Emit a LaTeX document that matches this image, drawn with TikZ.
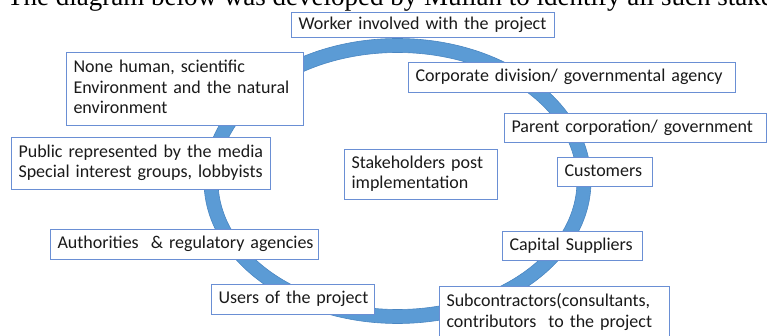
\documentclass[tikz,border=0pt]{standalone}
\usepackage{fontspec}
\setmainfont{Carlito}
\newfontfamily\leadserif{Liberation Serif}
\usepackage{tikz}
\usepackage{xcolor}
\definecolor{ringblue}{HTML}{5B9BD5}
\definecolor{ringedge}{HTML}{4A86C2}
\definecolor{boxline}{HTML}{6A8FD4}
\definecolor{boxtext}{HTML}{1A1A1A}
\newcommand{\stklines}[1]{\begin{tabular}{@{}l@{}}#1\end{tabular}}
\tikzset{
  stakebox/.style={
    draw=boxline,
    fill=white,
    line width=1pt,
    inner xsep=7pt,
    inner ysep=0pt,
    anchor=north west,
    align=left,
    text=boxtext,
    font=\fontsize{18}{20.5}\selectfont
  },
  ring/.style={
    fill=ringblue,
    draw=ringedge,
    line width=0.6pt,
    even odd rule
  }
}

\begin{document}
\begin{tikzpicture}[x=1pt,y=-1pt]
\useasboundingbox (0,0) rectangle (767,336);
\coordinate (ringc) at (397.5,181);
\path[ring] (ringc) ellipse [x radius=193.5, y radius=142.5]
            (ringc) ellipse [x radius=179.5, y radius=128.5];
\node[anchor=base west, inner sep=0pt, font=\leadserif\fontsize{27}{30}\selectfont] (lead) at (7,6)
  {The diagram below was developed by Mullan to identify all such stakeholders};
\node[stakebox, text width=249pt, minimum height=25pt] (worker) at (291,12) {\stklines{Worker involved with the project}};
\node[stakebox, text width=313pt, minimum height=30pt] (corp) at (408,62) {\stklines{Corporate division/ governmental agency}};
\node[stakebox, text width=248pt, minimum height=29pt] (parent) at (504,113) {\stklines{Parent corporation/ government}};
\node[stakebox, text width=81pt, minimum height=29pt] (customers) at (557,157) {\stklines{Customers}};
\node[stakebox, text width=126pt, minimum height=29pt] (capital) at (502,231) {\stklines{Capital Suppliers}};
\node[stakebox, text width=216pt, minimum height=53pt] (subcon) at (439,286) {\stklines{Subcontractors(consultants,\\contributors\ \ to the project}};
\node[stakebox, text width=149pt, minimum height=30pt] (users) at (211,284) {\stklines{Users of the project}};
\node[stakebox, text width=254pt, minimum height=30pt] (authority) at (50,229) {\stklines{Authorities\ \ \& regulatory agencies}};
\node[stakebox, text width=245pt, minimum height=52pt] (public) at (11,137) {\stklines{Public represented by the media\\Special interest groups, lobbyists}};
\node[stakebox, text width=223pt, minimum height=73pt] (nonhuman) at (66,52) {\stklines{None human, scientific\\Environment and the natural\\environment}};
\node[stakebox, text width=139pt, minimum height=50pt] (post) at (344,149) {\stklines{Stakeholders post\\implementation}};
\end{tikzpicture}
\end{document}
